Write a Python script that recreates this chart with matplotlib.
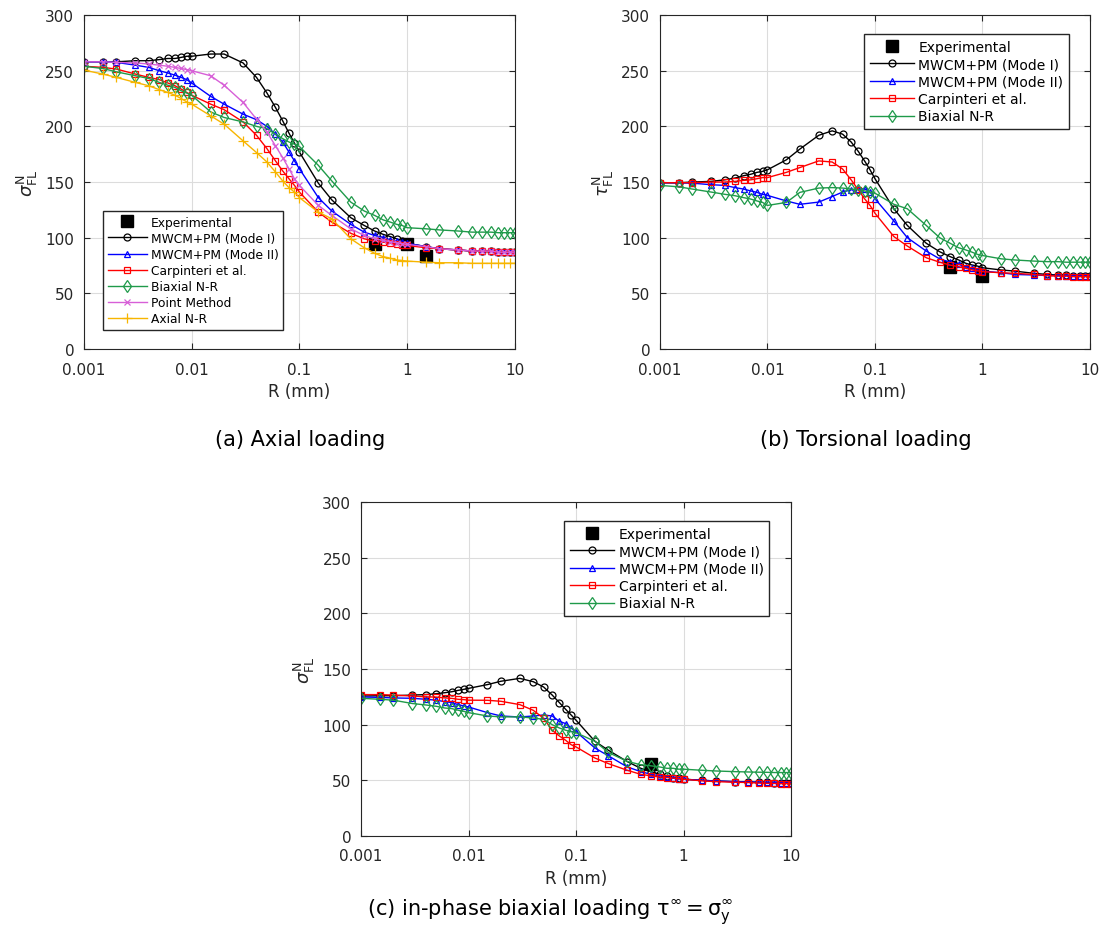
import numpy as np
import matplotlib.pyplot as plt

# R grid (mm) shared by all model curves
R = [0.001, 0.0015, 0.002, 0.003, 0.004, 0.005, 0.006, 0.007, 0.008, 0.009,
     0.01, 0.015, 0.02, 0.03, 0.04, 0.05, 0.06, 0.07, 0.08, 0.09,
     0.1, 0.15, 0.2, 0.3, 0.4, 0.5, 0.6, 0.7, 0.8, 0.9,
     1, 1.5, 2, 3, 4, 5, 6, 7, 8, 9, 10]

# (a) axial loading
a_exp_R = [0.5, 1.0, 1.5]
a_exp = [94, 94, 84]
a_mode1 = [258, 258, 258, 259, 259, 260, 261, 261, 262, 263,
           263, 265, 265, 257, 244, 230, 217, 205, 194, 185,
           177, 149, 134, 118, 111, 106, 103, 101, 99, 97,
           95, 92, 90, 89, 88, 88, 88, 87, 87, 87, 87]
a_mode2 = [258, 258, 257.5, 255, 253, 250, 248, 246, 244, 242,
           239, 227, 220, 211, 206, 200, 193, 186, 177, 169,
           162, 136, 124, 112, 105, 102, 100, 98, 97, 96,
           95, 92, 90, 89, 88, 88, 88, 87, 87, 87, 87]
a_carp = [254, 253, 251.5, 247, 244, 242, 239, 236.5, 233.5, 230.5,
          228, 220, 215, 204, 192, 180, 169, 160, 153, 147,
          141, 123, 114, 104, 99, 97, 96, 95, 94, 93.5,
          93, 91, 90, 89, 88, 88, 88, 87, 87, 87, 87]
a_biax = [254, 252, 249, 245.5, 243, 239.5, 237, 235, 232, 230,
          228, 213, 208, 204, 200, 198, 193, 189, 186, 184,
          182, 165, 151, 132, 124, 120, 116, 114, 112, 111,
          109, 108, 107, 106, 105, 105, 105, 104.5, 104.5, 104.5, 104.5]
a_point = [258, 258, 257.5, 257, 256, 255, 254, 253, 252, 251,
           250, 245.5, 237, 221.5, 206.5, 195, 182.5, 172, 162, 153,
           147, 129, 120, 108, 102, 99, 97.5, 96.5, 95.5, 94.5,
           94, 92, 90, 89, 88, 88, 88, 87, 87, 87, 87]
a_axial = [250.5, 247, 244, 239.5, 236.5, 233, 230.5, 228, 225, 222,
           220, 209.5, 202, 187, 176.5, 168, 159, 151, 145, 141,
           136, 123, 117, 99, 91, 86, 83, 81.5, 80, 79.5,
           79, 78, 77.5, 77.5, 77, 77, 77, 77, 77, 77, 77]

# (b) torsional loading
b_exp_R = [0.5, 1.0]
b_exp = [74, 66]
b_mode1 = [149.4, 149.4, 150, 150.6, 152, 153.6, 155.7, 157, 158.7, 159.6,
           161, 170, 179.6, 192, 196, 193, 186, 177.5, 169, 161,
           153, 126, 111, 95, 87.4, 83, 80, 77, 75.5, 74.5,
           73, 71, 70, 68, 67, 66.5, 66.5, 66, 66, 66, 66]
b_mode2 = [149.4, 149.2, 149, 147.6, 147, 145, 143.7, 142, 140.7, 139,
           138, 133, 130, 132, 137, 141, 143, 143.7, 144, 141,
           135, 115, 100, 88, 81, 78, 76, 74, 72.5, 71,
           70, 68.5, 67, 66.5, 66, 66, 66, 66, 66, 66, 66]
b_carp = [149.4, 149.4, 149.4, 150, 150, 150.6, 151.5, 152, 153, 154,
          154, 158.7, 163, 169, 168, 161.7, 152, 143, 135, 129,
          122, 101, 92.5, 82, 78, 75.4, 74, 72.5, 71, 70.2,
          69.5, 68.5, 68, 67, 66, 65.5, 65.5, 65, 65, 65, 65]
b_biax = [147, 145.7, 143.7, 141, 139, 137.7, 136, 134.7, 133, 131.7,
          129, 131.7, 140.7, 144.6, 145, 144.6, 143.7, 143, 142, 141,
          140, 130, 126, 111, 100, 95, 91, 89, 87, 85,
          84, 81, 80, 79, 78.5, 78.5, 78, 78, 78, 78, 78]

# (c) in-phase biaxial loading
c_exp_R = [0.5]
c_exp = [65]
c_mode1 = [125.7, 126, 126, 126.6, 127, 127.8, 128.7, 129.6, 130.8, 131.7,
           132.6, 136, 139, 141.6, 138.6, 133.8, 126.6, 119.8, 113.8, 108.7,
           104, 85, 77, 66.8, 60.8, 57.8, 55.4, 54, 52.4, 51.8,
           51, 50, 49.4, 48.8, 48.5, 48.3, 48.2, 48, 48, 48, 48]
c_mode2 = [124.9, 124.5, 124, 123.7, 122.8, 122, 120.7, 119.8, 118, 116.8,
           115.9, 110.8, 107.8, 106.9, 107.8, 108.7, 107.8, 103, 101, 97,
           93.7, 79, 72, 62, 57.8, 55.4, 54, 53, 52, 51.5,
           51, 50, 49.4, 48.8, 48.5, 48.3, 48.2, 48, 48, 48, 48]
c_carp = [127, 127, 126.6, 125.7, 125, 124.8, 124, 123.6, 122.8, 122.5,
          122, 121.9, 121, 118, 112.9, 105.7, 95, 89.8, 86, 82,
          80, 70, 65, 59, 55.4, 54, 53, 52.5, 52, 51.5,
          51, 49.5, 48.8, 48.3, 48, 47.5, 47.3, 47.2, 47, 47, 47]
c_biax = [123.7, 122.8, 122, 119, 117.7, 116.5, 115, 114.4, 113, 112,
          110.8, 107.8, 107, 107, 106, 104.8, 100, 97, 95, 93.7,
          92.8, 85, 75, 67, 64, 63, 62, 60.8, 60.8, 60,
          60, 59, 58.4, 57.8, 57.5, 57.3, 57.2, 57, 57, 57, 57]

BLUE = '#0000ff'
RED = '#ff0000'
GREEN = '#1f9a4a'
MAGENTA = '#d75fd7'
ORANGE = '#f7b500'


def model(ax, y, col, mk, lab, ms=5):
    ax.plot(R, y, color=col, marker=mk, ms=ms, mfc='none', mew=0.9, lw=1.0, label=lab)


def style(ax, ylab):
    ax.set_xscale('log')
    ax.set_xlim(0.001, 10)
    ax.set_ylim(0, 300)
    ax.set_xticks([0.001, 0.01, 0.1, 1, 10])
    ax.set_xticklabels(['0.001', '0.01', '0.1', '1', '10'])
    ax.set_yticks(np.arange(0, 301, 50))
    ax.minorticks_off()
    ax.grid(True, color='#dcdcdc', lw=0.8)
    ax.set_axisbelow(True)
    ax.tick_params(direction='in', labelsize=11, colors='#262626', length=4,
                   top=True, right=True)
    ax.tick_params(axis='x', pad=9)
    ax.tick_params(axis='y', pad=7)
    for s in ax.spines.values():
        s.set_color('#262626')
        s.set_linewidth(0.8)
    ax.set_xlabel('R (mm)', fontsize=12, color='#262626', labelpad=4)
    ax.set_ylabel(ylab, fontsize=13, color='#262626')


def add_legend(ax, loc, anchor, fs):
    ax.legend(loc=loc, bbox_to_anchor=anchor, fontsize=fs, fancybox=False,
              edgecolor='#262626', framealpha=1, handlelength=3.2, borderpad=0.4,
              labelspacing=0.25, handletextpad=0.3)


fig = plt.figure(figsize=(10.99, 9.45), dpi=100)
axa = fig.add_axes([0.0764, 0.6296, 0.392, 0.3534])
axb = fig.add_axes([0.6005, 0.6296, 0.3913, 0.3534])
axc = fig.add_axes([0.3285, 0.1143, 0.3913, 0.3534])

# (a)
axa.plot(a_exp_R, a_exp, 's', color='k', ms=9, ls='none', label='Experimental', zorder=1)
model(axa, a_mode1, 'k', 'o', 'MWCM+PM (Mode I)')
model(axa, a_mode2, BLUE, '^', 'MWCM+PM (Mode II)')
model(axa, a_carp, RED, 's', 'Carpinteri et al.', ms=4)
model(axa, a_biax, GREEN, 'd', 'Biaxial N-R', ms=6)
model(axa, a_point, MAGENTA, 'x', 'Point Method')
model(axa, a_axial, ORANGE, '+', 'Axial N-R', ms=7)
style(axa, r'$\sigma^{\mathrm{N}}_{\mathrm{FL}}$')
add_legend(axa, 'lower left', (0.03, 0.039), 8.8)

# (b)
axb.plot(b_exp_R, b_exp, 's', color='k', ms=9, ls='none', label='Experimental', zorder=1)
model(axb, b_mode1, 'k', 'o', 'MWCM+PM (Mode I)')
model(axb, b_mode2, BLUE, '^', 'MWCM+PM (Mode II)')
model(axb, b_carp, RED, 's', 'Carpinteri et al.', ms=4)
model(axb, b_biax, GREEN, 'd', 'Biaxial N-R', ms=6)
style(axb, r'$\tau^{\mathrm{N}}_{\mathrm{FL}}$')
add_legend(axb, 'upper right', (0.967, 0.964), 10)

# (c)
axc.plot(c_exp_R, c_exp, 's', color='k', ms=9, ls='none', label='Experimental', zorder=1)
model(axc, c_mode1, 'k', 'o', 'MWCM+PM (Mode I)')
model(axc, c_mode2, BLUE, '^', 'MWCM+PM (Mode II)')
model(axc, c_carp, RED, 's', 'Carpinteri et al.', ms=4)
model(axc, c_biax, GREEN, 'd', 'Biaxial N-R', ms=6)
style(axc, r'$\sigma^{\mathrm{N}}_{\mathrm{FL}}$')
add_legend(axc, 'upper right', (0.965, 0.964), 10)

fig.text(300 / 1099, 1 - 440 / 945, '(a) Axial loading', ha='center', va='center', fontsize=15)
fig.text(866 / 1099, 1 - 440 / 945, '(b) Torsional loading', ha='center', va='center', fontsize=15)
fig.text(550 / 1099, 1 - 912 / 945,
         r'(c) in-phase biaxial loading $\mathrm{\tau}^{\infty}=\mathrm{\sigma}_{\mathrm{y}}^{\infty}$',
         ha='center', va='center', fontsize=15)

fig.savefig('out.png', dpi=100)
